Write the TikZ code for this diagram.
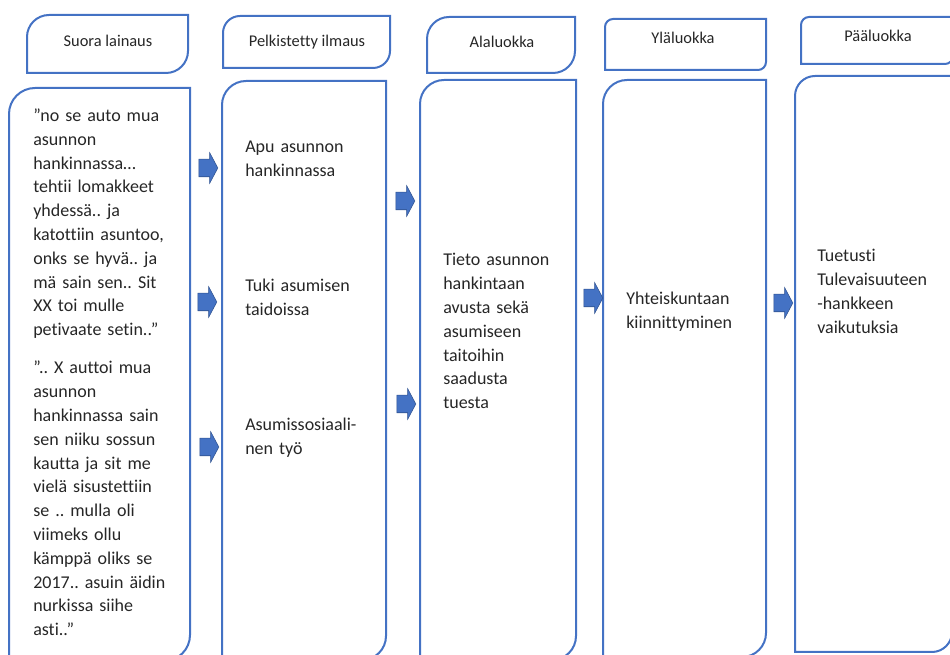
\documentclass[tikz,border=0pt]{standalone}
\usepackage{fontspec}
\setmainfont[Ligatures={TeX,NoCommon}]{Carlito}
\frenchspacing
\usetikzlibrary{positioning}
\usetikzlibrary{shapes.arrows}

\definecolor{frameblue}{HTML}{4472C4}
\definecolor{arrowedge}{HTML}{2F528F}
\definecolor{inktext}{HTML}{262626}

\tikzset{
  frame/.style={draw=frameblue, line width=1.5pt},
  flow/.style={single arrow, fill=frameblue, draw=arrowedge, line width=0.4pt,
    inner xsep=0pt, inner ysep=6.375pt, minimum height=14.25pt,
    single arrow head extend=4.875pt, single arrow tip angle=124,
    single arrow head indent=0pt},
  head/.style={font=\fontsize{12.3}{14}\selectfont, text=inktext, anchor=base, inner sep=0pt},
  body/.style={font=\fontsize{13.5}{17.85}\selectfont, text=inktext, anchor=base west,
    inner sep=0pt, align=left, text width=125pt},
}

\newcommand{\tabframe}[5]{\draw[frame] (#1,#4) -- (#1,{#2+#5}) arc (180:270:#5) -- (#3,#2) -- (#3,{#4-#5}) arc (0:90:#5) -- cycle;}

\begin{document}
\begin{tikzpicture}[x=0.75pt, y=-0.75pt]

                \useasboundingbox (0,0) rectangle (950,655);

                \tabframe{27}{15}{188}{73}{22}
                \tabframe{223}{16}{390}{68}{17}
                \tabframe{427}{17}{575}{73}{22}
                \tabframe{605}{19}{766}{70}{8}
                \tabframe{801}{17}{953}{64}{8}

                \tabframe{9}{88}{190}{661}{26}
                \tabframe{222}{81}{386}{660}{24}
                \tabframe{420}{80}{576}{660}{24}
                \tabframe{603}{80}{766}{657}{24}
                \tabframe{795}{76}{952}{652}{20}

                \node[head] (h_1) at (108,47) {Suora lainaus};
                \node[head] (h_2) at (307,47) {Pelkistetty ilmaus};
                \node[head] (h_3) at (502,48) {Alaluokka};
                \node[head] (h_4) at (683,44) {Yläluokka};
                \node[head] (h_5) at (878,42) {Pääluokka};

                \node[body] (q_1) at (33,121.5) {”no se auto mua\\asunnon\\hankinnassa…\\tehtii lomakkeet\\yhdessä.. ja\\katottiin asuntoo,\\onks se hyvä.. ja\\mä sain sen.. Sit\\XX toi mulle\\petivaate setin..”};
                \node[body] (q_2) at (33,374) {”.. X auttoi mua\\asunnon\\hankinnassa sain\\sen niiku sossun\\kautta ja sit me\\vielä sisustettiin\\se .. mulla oli\\viimeks ollu\\kämppä oliks se\\2017.. asuin äidin\\nurkissa siihe\\asti..”};

                \node[body] (p_1) at (245,153) {Apu asunnon\\hankinnassa};
                \node[body] (p_2) at (245,291.5) {Tuki asumisen\\taidoissa};
                \node[body] (p_3) at (245,430.5) {Asumissosiaali-\\nen työ};

                \node[body] (s_1) at (443,266) {Tieto asunnon\\hankintaan\\avusta sekä\\asumiseen\\taitoihin\\saadusta\\tuesta};
                \node[body] (u_1) at (626,304.5) {Yhteiskuntaan\\kiinnittyminen};
                \node[body] (m_1) at (817,262) {Tuetusti\\Tulevaisuuteen\\-hankkeen\\vaikutuksia};

                \node[flow] (a_1) at (206,168) {};
                \node[flow] (a_2) at (205,302) {};
                \node[flow] (a_3) at (207,447) {};
                \node[flow] (a_4) at (403,201) {};
                \node[flow] (a_5) at (404,404) {};
                \node[flow] (a_6) at (591,298) {};
                \node[flow] (a_7) at (781,303) {};

\end{tikzpicture}
\end{document}
